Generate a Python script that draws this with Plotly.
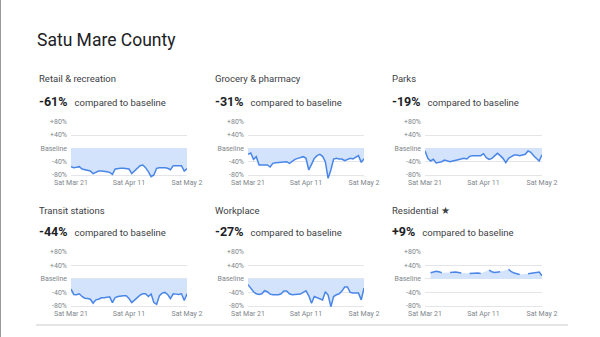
import pandas as pd
import plotly.graph_objects as go

W, H = 600, 337

dates = pd.date_range("2020-03-21", "2020-05-02", freq="D")

titles = ["Retail & recreation", "Grocery & pharmacy", "Parks",
          "Transit stations", "Workplace", "Residential ★"]
headlines = ["-61%", "-31%", "-19%", "-44%", "-27%", "+9%"]

retail = [-55, -58, -57, -55, -62, -64, -65, -68, -76, -72, -68, -68, -68, -70, -72,
          -78, -62, -60, -60, -60, -60, -62, -76, -68, -58, -52, -50, -58, -70, -85,
          -80, -60, -58, -57, -58, -60, -64, -52, -52, -52, -52, -68, -61]
grocery = [-18, -14, -33, -25, -50, -50, -48, -50, -56, -45, -43, -42, -40, -40, -40,
           -45, -38, -33, -30, -28, -25, -30, -65, -48, -30, -22, -18, -24, -40, -90,
           -65, -32, -30, -32, -32, -37, -34, -30, -32, -28, -22, -42, -31]
parks = [-8, -30, -38, -33, -44, -42, -40, -35, -38, -40, -38, -36, -33, -32, -30,
         -32, -24, -22, -21, -22, -22, -16, -28, -33, -30, -22, -15, -22, -30, -43,
         -30, -25, -20, -20, -22, -20, -18, -8, -12, -22, -30, -38, -19]
transit = [-30, -46, -47, -44, -52, -57, -58, -60, -72, -62, -60, -56, -56, -55, -53,
           -70, -55, -52, -50, -50, -50, -58, -70, -62, -56, -48, -44, -44, -52, -45,
           -70, -75, -50, -42, -40, -46, -58, -44, -45, -46, -44, -64, -44]
workplace = [-17, -28, -38, -44, -46, -44, -35, -38, -45, -47, -47, -47, -44, -36, -36,
             -44, -47, -47, -46, -45, -40, -35, -50, -72, -52, -56, -60, -62, -38, -48,
             -82, -52, -47, -44, -36, -24, -24, -40, -42, -42, -42, -62, -27]
residential = [None, None, 18, 20, 22, 21, 18, None, None, 19, 20, 20, 19, 17, None,
               None, 16, 17, 17, 17, 16, None, None, 26, 21, 19, 19, 21, None, None,
               28, 21, 17, 15, 13, None, None, 15, 16, 16, 18, 20, 9]

series = [retail, grocery, parks, transit, workplace, residential]

ytickvals = [-80, -40, 0, 40, 80]
yticktext = ["-80%", "-40%", "Baseline", "+40%", "+80%"]
xtickvals = ["2020-03-21", "2020-04-11", "2020-05-02"]
xticktext = ["Sat Mar 21", "Sat Apr 11", "Sat May 2"]

LINE = "#4a86e8"
FILL = "#d3e3fc"
GRID = "#e3e5e8"
TICKC = "#80868b"
FONT = "Roboto, Arial, sans-serif"

YMIN, YMAX = -92, 82

# pixel geometry
cols_px = [(71, 187), (248, 364), (425, 542)]
title_x = [37, 213, 390]
rows = [
    dict(top80=121.7, bot80=175.0, title_y=78, head_y=101.5),
    dict(top80=251.7, bot80=306.0, title_y=210, head_y=231.5),
]

fig = go.Figure()
annotations = []

for i, (ttl, head, vals) in enumerate(zip(titles, headlines, series)):
    r, c = divmod(i, 3)
    row = rows[r]
    x0, x1 = cols_px[c]
    ppu = (row["bot80"] - row["top80"]) / 160.0
    ytop = row["top80"] - (YMAX - 80) * ppu
    ybot = row["bot80"] + (-80 - YMIN) * ppu
    k = "" if i == 0 else str(i + 1)
    xa, ya = "xaxis" + k, "yaxis" + k
    fig.add_trace(go.Scatter(
        x=dates, y=vals, mode="lines",
        line=dict(color=LINE, width=1.5),
        fill="tozeroy", fillcolor=FILL,
        connectgaps=False, hoverinfo="skip",
        xaxis="x" + k, yaxis="y" + k, showlegend=False,
    ))
    axis_line_y = 1 - (row["bot80"] + 2.0) / H
    fig.layout[xa] = dict(
        domain=[x0 / W, x1 / W], anchor="free", position=axis_line_y,
        range=[dates[0], dates[-1]], tickmode="array",
        tickvals=xtickvals, ticktext=xticktext, showgrid=False,
        zeroline=False, showline=False, ticks="", automargin=False,
        tickfont=dict(size=7, color=TICKC, family=FONT),
        ticklabelstandoff=0, fixedrange=True,
    )
    fig.layout[ya] = dict(
        domain=[1 - ybot / H, 1 - ytop / H], anchor="x" + k,
        range=[YMIN, YMAX], tickmode="array", tickvals=ytickvals,
        ticktext=yticktext, showgrid=True, gridcolor=GRID, gridwidth=1,
        zeroline=False, showline=False, ticks="", automargin=False,
        tickfont=dict(size=7, color=TICKC, family=FONT),
        ticklabelstandoff=3, fixedrange=True,
    )
    annotations.append(dict(
        x=title_x[c] / W, y=1 - row["title_y"] / H, xref="paper", yref="paper",
        xanchor="left", yanchor="middle", showarrow=False, text=ttl,
        font=dict(size=9.5, color="#3c4043", family=FONT),
    ))
    annotations.append(dict(
        x=title_x[c] / W, y=1 - row["head_y"] / H, xref="paper", yref="paper",
        xanchor="left", yanchor="middle", showarrow=False,
        text=(f"<b><span style='font-size:12.5px;color:#202124'>{head}</span></b>"
              "&nbsp;&nbsp;&nbsp;compared to baseline"),
        font=dict(size=9.5, color="#3c4043", family=FONT),
    ))

annotations.append(dict(
    x=35 / W, y=1 - 40 / H, xref="paper", yref="paper", xanchor="left",
    yanchor="middle", showarrow=False, text="Satu Mare County",
    font=dict(size=17.5, color="#202124", family=FONT),
))

shapes = [
    dict(type="line", xref="paper", yref="paper", x0=36 / W, x1=568 / W,
         y0=1 - 325 / H, y1=1 - 325 / H, line=dict(color="#c8cacd", width=1)),
    dict(type="line", xref="paper", yref="paper", x0=0.5 / W, x1=0.5 / W,
         y0=0, y1=1, line=dict(color="#9a9a9a", width=1)),
]

fig.update_layout(
    width=W, height=H,
    margin=dict(l=0, r=0, t=0, b=0, pad=0, autoexpand=False),
    paper_bgcolor="white", plot_bgcolor="white",
    annotations=annotations, shapes=shapes, showlegend=False,
)

fig.write_html("out.html", config={"displayModeBar": False})
